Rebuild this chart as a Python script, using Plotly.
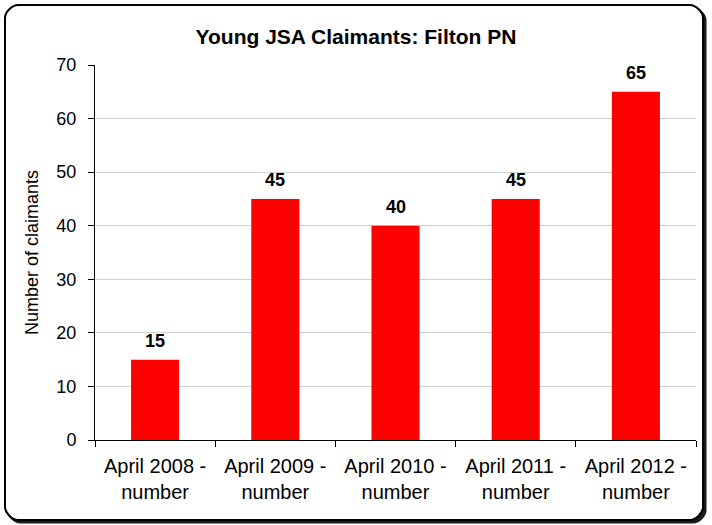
import plotly.graph_objects as go

categories = ["April 2008 -<br>number", "April 2009 -<br>number", "April 2010 -<br>number",
              "April 2011 -<br>number", "April 2012 -<br>number"]
values = [15, 45, 40, 45, 65]
title = "Young JSA Claimants: Filton PN"
y_title = "Number of claimants"

W, H = 712, 525
L, R, T, B = 95, 696, 65, 440

def px(x):
    return (x - L) / (R - L)

def py(y):
    return (B - y) / (B - T)

def rrect(x0, y0, x1, y1, r):
    k = 0.45 * r
    pts = [
        f"M {px(x0 + r)},{py(y0)}",
        f"L {px(x1 - r)},{py(y0)}",
        f"C {px(x1 - r + k)},{py(y0)} {px(x1)},{py(y0 + r - k)} {px(x1)},{py(y0 + r)}",
        f"L {px(x1)},{py(y1 - r)}",
        f"C {px(x1)},{py(y1 - r + k)} {px(x1 - r + k)},{py(y1)} {px(x1 - r)},{py(y1)}",
        f"L {px(x0 + r)},{py(y1)}",
        f"C {px(x0 + r - k)},{py(y1)} {px(x0)},{py(y1 - r + k)} {px(x0)},{py(y1 - r)}",
        f"L {px(x0)},{py(y0 + r)}",
        f"C {px(x0)},{py(y0 + r - k)} {px(x0 + r - k)},{py(y0)} {px(x0 + r)},{py(y0)}",
        "Z",
    ]
    return " ".join(pts)

fig = go.Figure(go.Bar(
    x=categories, y=values,
    marker=dict(color="#ff0000", line=dict(width=0)),
    cliponaxis=False,
))

annotations = [
    dict(x=c, y=v, xref="x", yref="y", text=f"<b>{v}</b>", showarrow=False,
         yanchor="bottom", yshift=7,
         font=dict(family="Liberation Sans, Arial", size=18, color="black"))
    for c, v in zip(categories, values)
]

shapes = [
    dict(type="path", xref="paper", yref="paper", layer="below",
         path=rrect(7, 7, 706.5, 523.5, 13), fillcolor="#1a1a1a", line=dict(width=0)),
    dict(type="path", xref="paper", yref="paper", layer="below",
         path=rrect(5, 5, 703, 520, 13), fillcolor="white", line=dict(color="black", width=2)),
]

fig.update_layout(
    width=W, height=H,
    margin=dict(l=L, r=W - R, t=T, b=H - B),
    paper_bgcolor="white", plot_bgcolor="rgba(0,0,0,0)",
    font=dict(family="Liberation Sans, Arial", size=18, color="black"),
    title=dict(text="<b>" + title + "</b>", x=0.5, xref="container", xanchor="center",
               y=1 - 37 / H, yanchor="middle", font=dict(size=21)),
    bargap=0.6,
    showlegend=False,
    shapes=shapes,
    annotations=annotations,
    xaxis=dict(showline=True, linecolor="black", linewidth=1, ticks="outside", tickson="boundaries",
               ticklen=6, tickcolor="black", showgrid=False, tickfont=dict(size=20),
               ticklabelstandoff=8),
    yaxis=dict(range=[0, 70], dtick=10, showline=True, linecolor="black", linewidth=1,
               ticks="outside", ticklen=6, tickcolor="black", showgrid=True, gridcolor="#d0d0d0",
               gridwidth=1, zeroline=False, tickfont=dict(size=18), ticklabelstandoff=8,
               title=dict(text=y_title, standoff=13, font=dict(size=18))),
)

fig.write_html("out.html", config={"displayModeBar": False},
               post_script="document.body.style.margin='0';")
